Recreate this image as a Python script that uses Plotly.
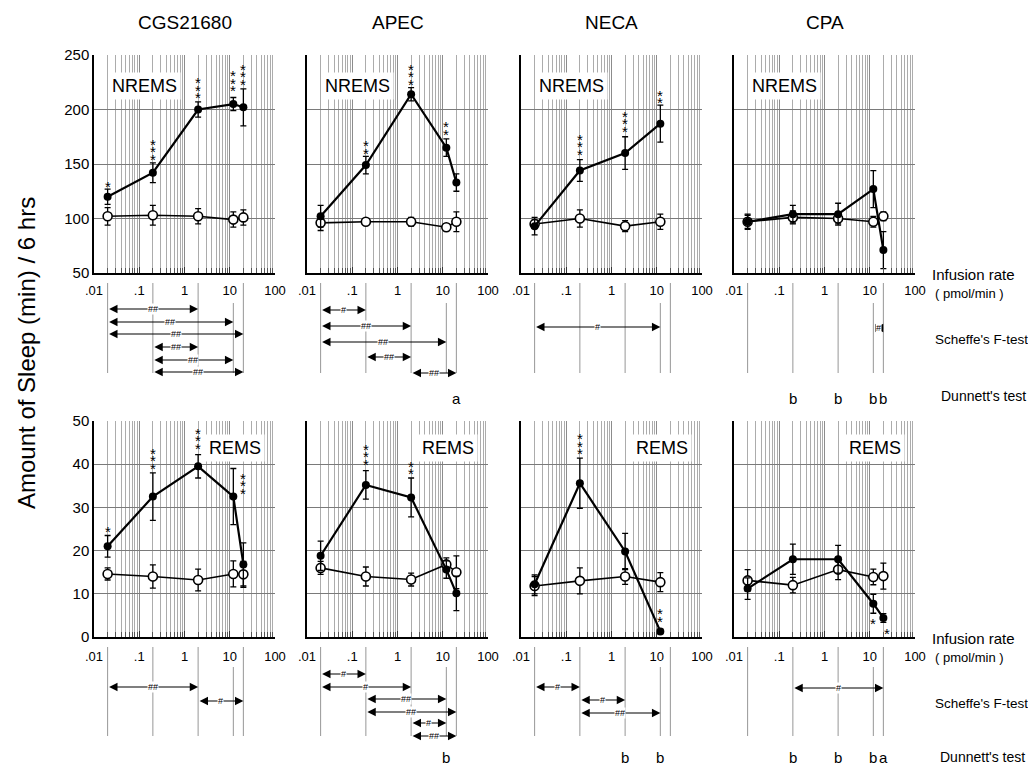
import numpy as np
import plotly.graph_objects as go

FONT = "Liberation Sans, Arial, Helvetica, sans-serif"
W, H = 1036, 767          # reference picture size
OFF = 8                   # page body margin in the browser
FW, FH = W - OFF, H - OFF  # figure size so that it exactly fills the window


def fx(px):
    return (px - OFF) / FW


def fy(py):
    return 1 - (py - OFF) / FH


drugs = ["CGS21680", "APEC", "NECA", "CPA"]
states = ["NREMS", "REMS"]

# infusion rates (pmol/min) at which each drug was given
dose_cgs = [0.02, 0.2, 2, 12, 20]
dose_apec = [0.02, 0.2, 2, 12, 20]
dose_neca = [0.02, 0.2, 2, 12]
dose_cpa = [0.02, 0.2, 2, 12, 20]
stat_doses = [0.02, 0.2, 2, 12, 20]

# NREMS (min / 6 hrs): drug night (filled) and vehicle (open), mean and s.e.m.
nrem_cgs_drug = [120, 142, 200, 205, 202]
nrem_cgs_drug_err = [7, 9, 7, 6, 17]
nrem_cgs_veh = [102, 103, 102, 99, 101]
nrem_cgs_veh_err = [8, 9, 7, 7, 7]
nrem_apec_drug = [102, 149, 214, 165, 133]
nrem_apec_drug_err = [10, 8, 6, 8, 8]
nrem_apec_veh = [96, 97, 97, 92, 97]
nrem_apec_veh_err = [7, 2, 4, 3, 9]
nrem_neca_drug = [93, 144, 160, 187]
nrem_neca_drug_err = [8, 10, 15, 17]
nrem_neca_veh = [95, 100, 93, 97]
nrem_neca_veh_err = [4, 8, 5, 7]
nrem_cpa_drug = [97, 104, 104, 127, 71]
nrem_cpa_drug_err = [7, 8, 10, 17, 17]
nrem_cpa_veh = [97, 101, 100, 97, 102]
nrem_cpa_veh_err = [6, 6, 5, 5, 4]

# REMS (min / 6 hrs)
rem_cgs_drug = [21.0, 32.5, 39.5, 32.5, 16.8]
rem_cgs_drug_err = [2.5, 5.5, 2.7, 6.5, 5.0]
rem_cgs_veh = [14.6, 14.0, 13.2, 14.6, 14.5]
rem_cgs_veh_err = [1.4, 2.7, 2.5, 3.0, 3.0]
rem_apec_drug = [18.8, 35.2, 32.3, 15.6, 10.1]
rem_apec_drug_err = [3.4, 3.3, 4.5, 2.0, 4.0]
rem_apec_veh = [16.0, 14.0, 13.3, 16.8, 15.0]
rem_apec_veh_err = [1.5, 2.2, 1.5, 1.5, 3.8]
rem_neca_drug = [12.2, 35.6, 19.8, 1.3]
rem_neca_drug_err = [2.2, 5.8, 4.2, 0.5]
rem_neca_veh = [11.8, 13.0, 14.0, 12.7]
rem_neca_veh_err = [2.2, 3.0, 1.8, 2.2]
rem_cpa_drug = [11.2, 18.0, 18.0, 7.7, 4.4]
rem_cpa_drug_err = [2.5, 3.5, 3.2, 2.2, 1.0]
rem_cpa_veh = [13.1, 12.0, 15.6, 13.9, 14.1]
rem_cpa_veh_err = [2.5, 1.8, 2.3, 1.8, 3.0]

# significance stars: (dose, level where the stack starts, number of stars, direction)
stars_nrem_cgs = [(0.02, 130, 1, "up"), (0.2, 155.5, 3, "up"), (2, 211.5, 3, "up"),
                  (12, 218, 3, "up"), (20, 224, 3, "up")]
stars_nrem_apec = [(0.2, 161, 2, "up"), (2, 224, 3, "up"), (12, 178, 2, "up")]
stars_nrem_neca = [(0.2, 160, 3, "up"), (2, 181, 3, "up"), (12, 207, 2, "up")]
stars_nrem_cpa = []
stars_rem_cgs = [(0.02, 24.7, 1, "up"), (0.2, 39.3, 3, "up"), (2, 43.9, 3, "up"), (20, 33.5, 3, "up")]
stars_rem_apec = [(0.2, 40.2, 3, "up"), (2, 38.0, 2, "up")]
stars_rem_neca = [(0.2, 42.7, 3, "up"), (12, 3.9, 2, "up")]
stars_rem_cpa = [(12, 4.4, 1, "down"), (24, 2.1, 1, "down")]

# Scheffe's F-test brackets: (from dose, to dose, label, row offset below axis in px)
scheffe_nrem_cgs = [(0.02, 2, "##", 36), (0.02, 12, "##", 49), (0.02, 20, "##", 61),
                    (0.2, 2, "##", 74), (0.2, 12, "##", 87), (0.2, 20, "##", 99)]
scheffe_nrem_apec = [(0.02, 0.2, "#", 37), (0.02, 2, "##", 53), (0.02, 12, "##", 69),
                     (0.2, 2, "##", 84), (2, 20, "##", 100)]
scheffe_nrem_neca = [(0.02, 12, "#", 54)]
scheffe_nrem_cpa = [(12, 20, "#", 55)]
scheffe_rem_cgs = [(0.02, 2, "##", 50), (2, 20, "#", 64)]
scheffe_rem_apec = [(0.02, 0.2, "#", 37), (0.02, 2, "#", 50), (0.2, 12, "##", 62),
                    (0.2, 20, "##", 75), (2, 12, "#", 86), (2, 20, "##", 99)]
scheffe_rem_neca = [(0.02, 0.2, "#", 50), (0.2, 2, "#", 63), (0.2, 12, "##", 76)]
scheffe_rem_cpa = [(0.2, 20, "#", 51)]

# Dunnett's test letters
dunnett_nrem_cgs = []
dunnett_nrem_apec = [(20, "a")]
dunnett_nrem_neca = []
dunnett_nrem_cpa = [(0.2, "b"), (2, "b"), (12, "b"), (20, "b")]
dunnett_rem_cgs = []
dunnett_rem_apec = [(12, "b")]
dunnett_rem_neca = [(2, "b"), (12, "b")]
dunnett_rem_cpa = [(0.2, "b"), (2, "b"), (12, "b"), (20, "a")]

x_tickvals = [0.01, 0.1, 1, 10, 100]
x_ticktext = [".01", ".1", "1", "10", "100"]
y_ticks_nrem = [50, 100, 150, 200, 250]
y_ticks_rem = [0, 10, 20, 30, 40, 50]

panels = {
    ("NREMS", "CGS21680"): (dose_cgs, nrem_cgs_drug, nrem_cgs_drug_err, nrem_cgs_veh, nrem_cgs_veh_err,
                            stars_nrem_cgs, scheffe_nrem_cgs, dunnett_nrem_cgs),
    ("NREMS", "APEC"): (dose_apec, nrem_apec_drug, nrem_apec_drug_err, nrem_apec_veh, nrem_apec_veh_err,
                        stars_nrem_apec, scheffe_nrem_apec, dunnett_nrem_apec),
    ("NREMS", "NECA"): (dose_neca, nrem_neca_drug, nrem_neca_drug_err, nrem_neca_veh, nrem_neca_veh_err,
                        stars_nrem_neca, scheffe_nrem_neca, dunnett_nrem_neca),
    ("NREMS", "CPA"): (dose_cpa, nrem_cpa_drug, nrem_cpa_drug_err, nrem_cpa_veh, nrem_cpa_veh_err,
                       stars_nrem_cpa, scheffe_nrem_cpa, dunnett_nrem_cpa),
    ("REMS", "CGS21680"): (dose_cgs, rem_cgs_drug, rem_cgs_drug_err, rem_cgs_veh, rem_cgs_veh_err,
                           stars_rem_cgs, scheffe_rem_cgs, dunnett_rem_cgs),
    ("REMS", "APEC"): (dose_apec, rem_apec_drug, rem_apec_drug_err, rem_apec_veh, rem_apec_veh_err,
                       stars_rem_apec, scheffe_rem_apec, dunnett_rem_apec),
    ("REMS", "NECA"): (dose_neca, rem_neca_drug, rem_neca_drug_err, rem_neca_veh, rem_neca_veh_err,
                       stars_rem_neca, scheffe_rem_neca, dunnett_rem_neca),
    ("REMS", "CPA"): (dose_cpa, rem_cpa_drug, rem_cpa_drug_err, rem_cpa_veh, rem_cpa_veh_err,
                      stars_rem_cpa, scheffe_rem_cpa, dunnett_rem_cpa),
}

# ---------------- layout geometry (reference pixels) ----------------
PANEL_LEFT = [94, 307, 521, 734]
PANEL_W = 181
ROW_TOP = [55, 421]
ROW_BOT = [273, 637]
STAT_H = 130
STAR_FS = 15
STAR_STEP = 7.5

minor_vals = [m * 10.0 ** e for e in range(-2, 2) for m in range(2, 10)]

fig = go.Figure()
annotations = []
layout_axes = {}


def axkey(kind, n):
    return f"{kind}axis" if n == 1 else f"{kind}axis{n}"


def axref(kind, n):
    return kind if n == 1 else f"{kind}{n}"


for r, state in enumerate(states):
    for c, drug in enumerate(drugs):
        i = r * 4 + c + 1
        s = i + 8
        xa, ya = axref("x", i), axref("y", i)
        xs, ys = axref("x", s), axref("y", s)
        left = PANEL_LEFT[c]
        xdom = [fx(left), fx(left + PANEL_W)]
        ydom = [fy(ROW_BOT[r]), fy(ROW_TOP[r])]
        sdom = [max(0.0, fy(ROW_BOT[r] + STAT_H)), fy(ROW_BOT[r])]

        layout_axes[axkey("x", i)] = dict(
            domain=xdom, anchor=ya, type="log", range=[-2, 2], automargin=False,
            tickmode="array", tickvals=x_tickvals, ticktext=x_ticktext,
            tickfont=dict(size=13, color="black", family=FONT),
            ticks="inside", ticklen=6, tickcolor="#333", tickwidth=1,
            ticklabelstandoff=5 if r == 0 else 7,
            showgrid=True, gridcolor="#8c8c8c", gridwidth=1,
            minor=dict(tickmode="array", tickvals=minor_vals, showgrid=True,
                       gridcolor="#acacac", gridwidth=0.8, ticks="inside",
                       ticklen=5, tickcolor="#555", tickwidth=0.8),
            showline=True, linecolor="black", linewidth=1.5, mirror=False,
            zeroline=False, fixedrange=True,
        )
        yt = y_ticks_nrem if r == 0 else y_ticks_rem
        layout_axes[axkey("y", i)] = dict(
            domain=ydom, anchor=xa, range=[yt[0], yt[-1]], automargin=False,
            tickmode="array", tickvals=yt, showticklabels=(c == 0),
            tickfont=dict(size=15, color="black", family=FONT),
            ticks="", showgrid=True, gridcolor="#7a7a7a", gridwidth=1,
            showline=True, linecolor="black", linewidth=1.5, mirror=False,
            zeroline=False, fixedrange=True,
        )
        # statistics strip beneath each panel (y measured in px below the axis)
        layout_axes[axkey("x", s)] = dict(
            domain=xdom, anchor=ys, type="log", range=[-2, 2], visible=False,
            automargin=False, showgrid=False, zeroline=False, fixedrange=True)
        layout_axes[axkey("y", s)] = dict(
            domain=sdom, anchor=xs, range=[STAT_H, 0], visible=False,
            automargin=False, showgrid=False, zeroline=False, fixedrange=True)

        doses, d_val, d_err, v_val, v_err, stars, scheffe, dunnett = panels[(state, drug)]

        # reference lines in the stats strip
        lx, ly = [], []
        for d in stat_doses:
            lx += [d, d, None]
            ly += [30 if d == 12 else 10, 100 if r == 0 else 99, None]
        fig.add_trace(go.Scatter(x=lx, y=ly, mode="lines", xaxis=xs, yaxis=ys,
                                 line=dict(color="#8a8a8a", width=0.9),
                                 hoverinfo="skip", showlegend=False))

        # vehicle (open circles)
        fig.add_trace(go.Scatter(
            x=doses, y=v_val, mode="lines+markers", xaxis=xa, yaxis=ya,
            error_y=dict(type="data", array=v_err, color="black", thickness=1.3, width=3),
            line=dict(color="black", width=1.6),
            marker=dict(color="white", size=9, line=dict(color="black", width=1.6)),
            hoverinfo="skip", showlegend=False))
        # drug (filled circles)
        fig.add_trace(go.Scatter(
            x=doses, y=d_val, mode="lines+markers", xaxis=xa, yaxis=ya,
            error_y=dict(type="data", array=d_err, color="black", thickness=1.3, width=3),
            line=dict(color="black", width=2.2),
            marker=dict(color="black", size=8),
            hoverinfo="skip", showlegend=False))

        # stars
        for d, lvl, n, direction in stars:
            for k in range(n):
                if direction == "up":
                    annotations.append(dict(
                        xref=xa, yref=ya, x=np.log10(d), y=lvl, text="*", showarrow=False,
                        yanchor="bottom", yshift=-10.5 + k * STAR_STEP, borderpad=0,
                        font=dict(size=STAR_FS, color="black", family=FONT)))
                else:
                    annotations.append(dict(
                        xref=xa, yref=ya, x=np.log10(d), y=lvl, text="*", showarrow=False,
                        yanchor="top", yshift=4 - k * STAR_STEP, borderpad=0,
                        font=dict(size=STAR_FS, color="black", family=FONT)))

        # panel state label
        if r == 0:
            annotations.append(dict(
                xref=f"{xa} domain", yref=f"{ya} domain", x=14 / PANEL_W, y=1 - 31 / 218,
                xanchor="left", yanchor="middle", text=state, showarrow=False,
                bgcolor="white", borderpad=3,
                font=dict(size=18, color="black", family=FONT)))
        else:
            annotations.append(dict(
                xref=f"{xa} domain", yref=f"{ya} domain", x=1 - 10 / PANEL_W, y=1 - 27 / 216,
                xanchor="right", yanchor="middle", text=state, showarrow=False,
                bgcolor="white", borderpad=3,
                font=dict(size=18, color="black", family=FONT)))

        # Scheffe brackets
        for d0, d1, lab, off in scheffe:
            annotations.append(dict(
                xref=xs, yref=ys, axref=xs, ayref=ys,
                x=np.log10(d1), y=off, ax=np.log10(d0), ay=off, text="",
                showarrow=True, arrowhead=2, startarrowhead=2, arrowside="end+start",
                arrowsize=1.4, startarrowsize=1.4, arrowwidth=1.2, arrowcolor="black",
                standoff=0, startstandoff=0))
            annotations.append(dict(
                xref=xs, yref=ys, x=(np.log10(d0) + np.log10(d1)) / 2, y=off,
                text=lab, showarrow=False, bgcolor="white", borderpad=0,
                font=dict(size=9, color="black", family=FONT)))

        # Dunnett letters
        for d, lab in dunnett:
            if r == 0:
                annotations.append(dict(
                    xref=xs, yref=ys, x=np.log10(d), y=125, text=lab, showarrow=False,
                    yanchor="middle", font=dict(size=15, color="black", family=FONT)))
            else:
                annotations.append(dict(
                    xref=xs, yref=ys, x=np.log10(d), y=129.5, text=lab, showarrow=False,
                    yanchor="bottom", borderpad=0,
                    font=dict(size=15, color="black", family=FONT)))

# column titles
for c, drug in enumerate(drugs):
    annotations.append(dict(
        xref="paper", yref="paper", x=fx(PANEL_LEFT[c] + PANEL_W / 2), y=fy(22),
        text=drug, showarrow=False, xanchor="center", yanchor="middle",
        font=dict(size=19, color="black", family=FONT)))

# y axis title
annotations.append(dict(
    xref="paper", yref="paper", x=fx(26), y=fy(353), text="Amount of Sleep (min) / 6 hrs",
    textangle=-90, showarrow=False, xanchor="center", yanchor="middle",
    font=dict(size=24, color="black", family=FONT)))

# right-hand row captions
for r in range(2):
    base = ROW_BOT[r]
    for txt, dx, dy, fs in [("Infusion rate", 930, 1, 15), ("( pmol/min )", 933, 20, 13),
                            ("Scheffe's F-test", 933, 66, 13.5)]:
        annotations.append(dict(
            xref="paper", yref="paper", x=fx(dx), y=fy(base + dy), text=txt,
            showarrow=False, xanchor="left", yanchor="middle",
            font=dict(size=fs, color="black", family=FONT)))
    if r == 0:
        annotations.append(dict(
            xref="paper", yref="paper", x=fx(939), y=fy(base + 123), text="Dunnett's test",
            showarrow=False, xanchor="left", yanchor="middle",
            font=dict(size=14, color="black", family=FONT)))
    else:
        annotations.append(dict(
            xref="paper", yref="paper", x=fx(939), y=fy(766), text="Dunnett's test",
            showarrow=False, xanchor="left", yanchor="bottom", borderpad=0,
            font=dict(size=14, color="black", family=FONT)))

fig.update_layout(
    template="none",
    width=FW, height=FH, margin=dict(l=0, r=0, t=0, b=0, pad=0),
    paper_bgcolor="white", plot_bgcolor="rgba(0,0,0,0)",
    showlegend=False, font=dict(family=FONT, color="black"),
    annotations=annotations, **layout_axes)

fig.write_html("out.html")
